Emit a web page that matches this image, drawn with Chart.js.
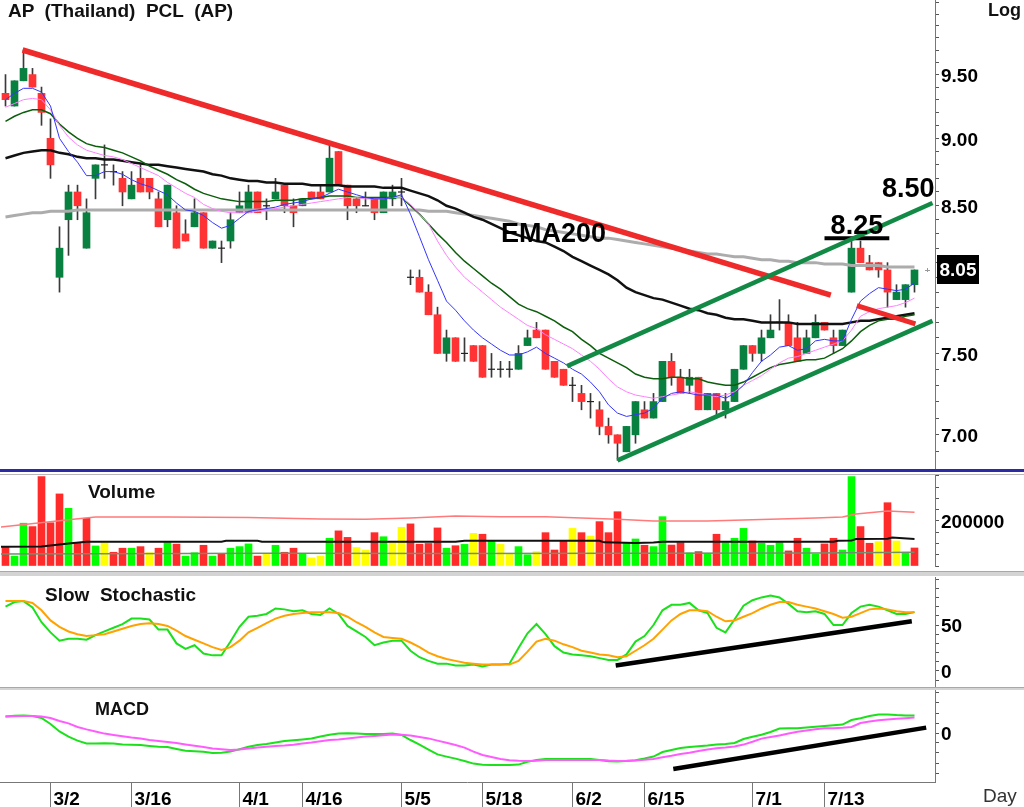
<!DOCTYPE html>
<html>
<head>
<meta charset="utf-8">
<title>AP (Thailand) PCL (AP)</title>
<script src="https://cdn.jsdelivr.net/npm/chart.js@4.4.1/dist/chart.umd.min.js"></script>
<style>
  body { margin: 0; background: #fff; }
  #wrap { position: relative; width: 1024px; height: 807px; overflow: hidden; background: #fff;
          font-family: "Liberation Sans", Arial, sans-serif; color: #111; }
  .pane { position: absolute; left: 0; width: 1024px; }
  .line { position: absolute; left: 0; width: 1024px; }
  .lbl { position: absolute; white-space: pre; font-weight: bold; line-height: 19px; }
</style>
</head>
<body>
<div id="wrap">
  <div class="pane" style="top:0;height:469px"><canvas id="priceChart"></canvas></div>
  <div class="line" style="top:469px;height:3px;background:#2b2ba6"></div>
  <div class="line" style="top:474px;height:1px;background:#b8b8b8"></div>
  <div class="pane" style="top:475px;height:93px"><canvas id="volumeChart"></canvas></div>
  <div class="line" style="top:571px;height:4px;background:#d4d4d4;border-top:1px solid #a8a8a8"></div>
  <div class="pane" style="top:577px;height:110px"><canvas id="stochChart"></canvas></div>
  <div class="line" style="top:687px;height:2px;background:#d4d4d4;border-top:1px solid #a8a8a8"></div>
  <div class="pane" style="top:690px;height:117px"><canvas id="macdChart"></canvas></div>

  <div class="lbl" style="left:8px;top:1px;font-size:19px">AP  (Thailand)  PCL  (AP)</div>
  <div class="lbl" style="left:988px;top:1px;font-size:18px">Log</div>
  <div class="lbl" style="left:88px;top:482px;font-size:19px">Volume</div>
  <div class="lbl" style="left:45px;top:585px;font-size:19px">Slow  Stochastic</div>
  <div class="lbl" style="left:95px;top:700px;font-size:18px">MACD</div>
  <div class="lbl" style="left:983px;top:786px;font-size:19px;font-weight:normal;color:#333">Day</div>
</div>

<script>
// ---- daily candles (tick 0.05) ----
const opens = [9.35,9.25,9.45,9.50,9.35,9.00,8.00,8.40,8.60,8.20,
  8.70,8.80,8.75,8.70,8.55,8.70,8.70,8.55,8.40,8.45,
  8.30,8.35,8.45,8.20,8.20,8.25,8.45,8.45,8.60,8.50,
  8.55,8.65,8.50,8.50,8.60,8.60,8.60,8.90,8.65,8.55,
  8.50,8.55,8.45,8.55,8.60,8.00,8.00,7.90,7.75,7.50,
  7.60,7.50,7.55,7.55,7.40,7.40,7.40,7.40,7.55,7.65,
  7.65,7.45,7.40,7.30,7.25,7.20,7.15,7.05,7.00,6.90,
  7.00,7.15,7.10,7.20,7.45,7.35,7.30,7.35,7.15,7.25,
  7.15,7.20,7.40,7.55,7.50,7.60,7.70,7.70,7.60,7.50,
  7.60,7.70,7.60,7.55,7.90,8.20,8.10,8.10,8.05,7.85,
  7.85,7.95];
const highs = [9.50,9.45,9.70,9.55,9.40,9.15,8.35,8.65,8.65,8.55,
  8.80,8.95,8.80,8.75,8.75,8.80,8.70,8.60,8.65,8.50,
  8.40,8.55,8.45,8.25,8.25,8.45,8.60,8.65,8.60,8.55,
  8.70,8.65,8.55,8.55,8.60,8.65,8.95,8.90,8.65,8.55,
  8.60,8.55,8.60,8.65,8.70,8.05,8.05,7.95,7.80,7.65,
  7.60,7.60,7.55,7.55,7.50,7.45,7.45,7.55,7.65,7.70,
  7.65,7.45,7.40,7.35,7.30,7.25,7.20,7.10,7.00,7.05,
  7.20,7.20,7.25,7.45,7.50,7.40,7.40,7.35,7.25,7.25,
  7.25,7.40,7.55,7.55,7.65,7.75,7.85,7.75,7.70,7.65,
  7.75,7.70,7.65,7.65,8.25,8.25,8.15,8.10,8.10,7.95,
  7.95,8.05];
const lows = [9.25,9.25,9.45,9.40,9.10,8.70,7.90,8.15,8.40,8.20,
  8.55,8.70,8.65,8.50,8.55,8.60,8.55,8.35,8.35,8.20,
  8.25,8.35,8.20,8.20,8.10,8.20,8.45,8.45,8.45,8.40,
  8.55,8.45,8.35,8.50,8.55,8.55,8.60,8.65,8.40,8.45,
  8.50,8.40,8.45,8.50,8.50,7.95,7.90,7.75,7.50,7.45,
  7.45,7.45,7.45,7.35,7.35,7.35,7.35,7.40,7.55,7.60,
  7.40,7.35,7.30,7.20,7.15,7.10,7.00,6.95,6.85,6.90,
  6.95,7.10,7.10,7.20,7.30,7.25,7.25,7.15,7.15,7.10,
  7.10,7.20,7.40,7.45,7.45,7.60,7.65,7.55,7.45,7.50,
  7.60,7.65,7.50,7.55,7.90,8.10,8.05,8.00,7.80,7.85,
  7.80,7.90];
const closes = [9.30,9.45,9.55,9.40,9.20,8.80,8.20,8.60,8.50,8.45,
  8.80,8.80,8.75,8.60,8.65,8.60,8.60,8.35,8.65,8.20,
  8.25,8.45,8.20,8.25,8.20,8.40,8.50,8.60,8.45,8.50,
  8.60,8.50,8.45,8.55,8.55,8.55,8.85,8.65,8.50,8.50,
  8.50,8.45,8.60,8.60,8.60,8.00,7.90,7.75,7.50,7.60,
  7.45,7.50,7.45,7.35,7.40,7.40,7.40,7.50,7.60,7.60,
  7.40,7.35,7.30,7.30,7.20,7.20,7.05,7.00,6.95,7.05,
  7.20,7.10,7.20,7.45,7.35,7.25,7.35,7.15,7.25,7.15,
  7.20,7.40,7.55,7.50,7.60,7.65,7.70,7.55,7.45,7.60,
  7.70,7.65,7.55,7.65,8.20,8.10,8.05,8.05,7.90,7.90,
  7.95,8.05];

// ---- moving averages drawn on the price pane ----
const emaFast = [9.30,9.35,9.39,9.39,9.36,9.25,9.00,8.90,8.82,8.72,
  8.72,8.75,8.75,8.73,8.69,8.66,8.64,8.61,8.58,8.52,
  8.47,8.46,8.43,8.38,8.34,8.36,8.41,8.46,8.47,8.48,
  8.49,8.51,8.52,8.53,8.55,8.56,8.59,8.62,8.60,8.58,
  8.56,8.55,8.55,8.56,8.58,8.44,8.28,8.12,7.98,7.84,
  7.78,7.71,7.65,7.60,7.56,7.52,7.49,7.49,7.51,7.54,
  7.50,7.47,7.44,7.40,7.37,7.32,7.26,7.18,7.13,7.11,
  7.12,7.13,7.16,7.22,7.25,7.26,7.25,7.24,7.24,7.24,
  7.22,7.25,7.30,7.38,7.45,7.49,7.54,7.55,7.52,7.53,
  7.58,7.59,7.58,7.58,7.72,7.84,7.89,7.93,7.92,7.91,
  7.92,7.96];
const emaMedium = [9.24,9.27,9.30,9.31,9.30,9.22,9.10,9.01,8.95,8.91,
  8.89,8.87,8.86,8.84,8.81,8.78,8.75,8.72,8.67,8.63,
  8.59,8.56,8.51,8.48,8.46,8.45,8.45,8.45,8.46,8.47,
  8.48,8.49,8.50,8.51,8.52,8.53,8.54,8.55,8.56,8.56,
  8.55,8.55,8.55,8.56,8.56,8.51,8.44,8.37,8.25,8.15,
  8.07,8.00,7.95,7.90,7.85,7.80,7.76,7.72,7.68,7.66,
  7.62,7.59,7.56,7.53,7.49,7.45,7.40,7.34,7.29,7.26,
  7.24,7.23,7.22,7.23,7.24,7.25,7.26,7.25,7.24,7.23,
  7.24,7.26,7.30,7.33,7.36,7.40,7.44,7.47,7.48,7.50,
  7.52,7.54,7.56,7.58,7.65,7.74,7.77,7.79,7.80,7.81,
  7.83,7.86];
const emaSlow = [9.13,9.17,9.20,9.22,9.22,9.19,9.11,9.05,9.00,8.96,
  8.94,8.93,8.91,8.89,8.86,8.83,8.79,8.76,8.73,8.69,
  8.66,8.62,8.59,8.57,8.55,8.54,8.53,8.53,8.53,8.53,
  8.54,8.54,8.54,8.55,8.55,8.56,8.57,8.57,8.57,8.56,
  8.56,8.56,8.56,8.56,8.56,8.50,8.44,8.37,8.30,8.24,
  8.17,8.11,8.06,8.01,7.96,7.92,7.87,7.82,7.79,7.77,
  7.74,7.71,7.67,7.64,7.59,7.55,7.50,7.47,7.44,7.41,
  7.37,7.35,7.34,7.34,7.35,7.35,7.34,7.34,7.32,7.31,
  7.30,7.30,7.32,7.35,7.38,7.41,7.43,7.44,7.45,7.46,
  7.46,7.47,7.50,7.53,7.58,7.64,7.68,7.71,7.72,7.72,
  7.74,7.75];
const emaLong = [8.85,8.87,8.89,8.90,8.91,8.91,8.89,8.88,8.86,8.85,
  8.85,8.84,8.84,8.83,8.82,8.81,8.80,8.80,8.79,8.78,
  8.77,8.76,8.75,8.73,8.72,8.70,8.69,8.68,8.68,8.67,
  8.67,8.66,8.66,8.66,8.65,8.65,8.65,8.65,8.64,8.64,
  8.64,8.64,8.63,8.63,8.63,8.61,8.59,8.57,8.54,8.50,
  8.48,8.45,8.42,8.40,8.37,8.34,8.31,8.29,8.27,8.25,
  8.24,8.21,8.18,8.14,8.11,8.08,8.05,8.02,7.98,7.93,
  7.90,7.88,7.86,7.85,7.83,7.81,7.79,7.78,7.76,7.75,
  7.73,7.72,7.72,7.71,7.70,7.70,7.70,7.70,7.69,7.69,
  7.69,7.69,7.69,7.69,7.70,7.71,7.71,7.72,7.73,7.74,
  7.75,7.76];
const ema200 = [8.42,8.43,8.44,8.45,8.45,8.46,8.46,8.46,8.47,8.47,
  8.47,8.47,8.47,8.47,8.47,8.47,8.47,8.47,8.47,8.47,
  8.47,8.47,8.47,8.47,8.47,8.47,8.47,8.47,8.47,8.47,
  8.47,8.47,8.47,8.47,8.47,8.47,8.47,8.47,8.47,8.47,
  8.47,8.47,8.47,8.47,8.47,8.47,8.47,8.46,8.46,8.46,
  8.45,8.44,8.43,8.42,8.41,8.40,8.39,8.37,8.36,8.35,
  8.33,8.32,8.31,8.30,8.29,8.28,8.27,8.27,8.26,8.25,
  8.24,8.23,8.22,8.21,8.20,8.19,8.18,8.17,8.16,8.16,
  8.15,8.14,8.14,8.13,8.12,8.12,8.11,8.11,8.10,8.10,
  8.10,8.09,8.09,8.09,8.08,8.08,8.08,8.08,8.07,8.07,
  8.07,8.07];

// ---- hand-drawn trend lines: [candle index], [price] ----
const downTrendIdx = [1.9, 91.7],   downTrend = [9.70, 7.88];
const shortDownIdx = [94.6, 101.1], shortDown = [7.81, 7.69];
const channelTopIdx = [62.4, 103.0], channelTop = [7.42, 8.52];
const channelLowIdx = [68.0, 103.0], channelLow = [6.85, 7.71];
const resistIdx = [91.0, 98.2],     resist = [8.27, 8.27];

// ---- volume (thousand shares) and direction: g up, r down, y unchanged ----
const volumeK = [86,44,190,175,397,192,320,256,101,212,
  89,104,61,79,79,86,59,79,104,97,
  44,59,92,44,53,79,86,98,44,53,
  92,61,79,53,36,44,123,156,127,82,
  71,148,130,104,172,187,97,100,169,79,
  90,96,145,141,111,96,56,86,50,64,
  148,71,111,167,148,133,197,148,241,101,
  120,92,86,219,93,104,58,64,56,141,
  104,123,167,111,101,92,104,67,123,79,
  53,98,123,71,397,175,101,108,281,111,
  61,80];
const volumeDir = 'rggrrrrgrrgyrrgryrgrggrgrgggrygrrgyygrryyrgyyrrrrgrgyrgyyggyrrryryrrrggrggrrgrgrgggrgggrrggrrggrryryg'.split('');
const volMaRedIdx = [-0.5, 7, 10, 18, 27, 35, 40, 45, 50, 55, 60, 68, 72, 78, 85, 90, 93, 94.5, 98, 101];
const volMaRed = [173, 205, 218, 218, 215, 209, 208, 213, 222, 219, 219, 208, 200, 200, 208, 213, 218, 231, 244, 239];
const volMaBlackIdx = [-0.5, 4, 7, 9, 24, 24.5, 28, 28.5, 50, 51, 66, 66.5, 70, 72, 73, 92, 92.5, 94, 94.5, 98, 98.5, 101];
const volMaBlack = [86, 87, 100, 108, 108, 112, 112, 108, 108, 112, 112, 105, 102, 104, 108, 108, 112, 113, 120, 121, 126, 120];
const volMaGrayIdx = [-0.5, 30, 50, 70, 90, 101];
const volMaGray = [53, 57, 55, 57, 58, 61];

// ---- slow stochastic ----
const stochK = [70,75,76,69,53,42,33,35,35,34,
  39,43,47,51,57,57,56,45,45,30,
  24,28,19,17,17,32,48,59,60,62,
  68,67,65,66,62,61,68,62,49,43,
  37,28,31,33,33,22,15,11,8,8,
  6,6,7,5,7,7,8,25,41,51,
  40,27,20,18,17,16,14,12,12,18,
  32,38,50,66,72,72,74,66,63,47,
  42,56,71,77,80,82,80,73,65,64,
  65,62,50,50,63,70,72,70,66,62,
  62,64];
const stochD = [76,76,76,74,66,55,48,43,40,38,
  39,40,43,46,49,51,52,51,49,44,
  38,34,30,26,23,26,33,42,47,52,
  57,60,62,63,64,64,64,63,59,53,
  48,42,37,36,35,31,26,20,16,13,
  11,9,8,7,7,7,7,11,21,32,
  35,33,29,26,22,20,18,17,15,16,
  22,28,35,45,55,62,66,66,65,59,
  54,55,59,63,68,72,75,75,72,70,
  68,65,62,58,59,63,67,68,67,65,
  64,64];
const stochTrendIdx = [67.8, 100.7], stochTrend = [6, 54];

// ---- MACD ----
const macdLine = [0.083,0.086,0.087,0.085,0.075,0.045,0.008,-0.018,-0.038,-0.052,
  -0.052,-0.051,-0.053,-0.058,-0.059,-0.060,-0.065,-0.069,-0.070,-0.080,
  -0.089,-0.091,-0.094,-0.100,-0.099,-0.093,-0.081,-0.069,-0.060,-0.055,
  -0.047,-0.040,-0.036,-0.032,-0.028,-0.018,-0.009,-0.002,-0.001,-0.003,
  -0.005,-0.005,-0.005,-0.002,-0.010,-0.035,-0.058,-0.083,-0.107,-0.118,
  -0.128,-0.140,-0.153,-0.159,-0.160,-0.160,-0.160,-0.158,-0.144,-0.135,
  -0.130,-0.130,-0.130,-0.130,-0.130,-0.130,-0.135,-0.141,-0.143,-0.140,
  -0.136,-0.128,-0.118,-0.095,-0.085,-0.075,-0.070,-0.066,-0.063,-0.058,
  -0.055,-0.050,-0.030,-0.019,-0.009,0.005,0.022,0.024,0.024,0.028,
  0.031,0.035,0.039,0.042,0.065,0.074,0.085,0.092,0.093,0.090,
  0.088,0.087];
const macdSignal = [0.082,0.084,0.085,0.085,0.083,0.075,0.060,0.048,0.030,0.018,
  0.008,-0.003,-0.010,-0.016,-0.023,-0.028,-0.035,-0.040,-0.045,-0.050,
  -0.057,-0.064,-0.070,-0.077,-0.081,-0.085,-0.082,-0.077,-0.072,-0.069,
  -0.065,-0.063,-0.059,-0.053,-0.048,-0.041,-0.035,-0.032,-0.027,-0.023,
  -0.018,-0.015,-0.011,-0.008,-0.009,-0.013,-0.020,-0.027,-0.038,-0.049,
  -0.060,-0.073,-0.093,-0.110,-0.120,-0.130,-0.136,-0.139,-0.140,-0.139,
  -0.135,-0.135,-0.135,-0.135,-0.135,-0.135,-0.135,-0.138,-0.140,-0.139,
  -0.137,-0.134,-0.130,-0.121,-0.114,-0.105,-0.099,-0.090,-0.083,-0.076,
  -0.073,-0.068,-0.058,-0.044,-0.028,-0.020,-0.012,-0.003,0.006,0.012,
  0.019,0.024,0.024,0.026,0.030,0.050,0.058,0.064,0.067,0.071,
  0.074,0.077];
const macdTrendIdx = [74.2, 102.3], macdTrend = [-0.18, 0.027];

// ---- axes ----
const dateIdx = [5, 14, 26, 33, 44, 53, 63, 71, 83, 91];
const dateLabels = ['3/2', '3/16', '4/1', '4/16', '5/5', '5/18', '6/2', '6/15', '7/1', '7/13'];
const priceTicks = Array.from({ length: 33 }, (_, k) => Math.round(69 + k) / 10);
const priceLabels = [7.0, 7.5, 8.5, 9.0, 9.5];
const volTicks = [0, 50000, 100000, 150000, 200000, 250000, 300000, 350000, 400000];
const volLabels = [200000];
const stochTicks = [-10, 0, 10, 20, 30, 40, 50, 60, 70, 80, 90, 100];
const stochLabels = [0, 50];
const macdTicks = [-0.2, -0.15, -0.1, -0.05, 0, 0.05, 0.1, 0.15, 0.2];
const macdLabels = [0];

// ---- look ----
const FONT = '"Liberation Sans", Arial, sans-serif';
const AXIS_W = 89;
const X_MIN = -0.6111, X_MAX = 103.278;
const UP = '#078040', DOWN = '#ff3333';
const VOL_COLORS = { g: '#00ff00', r: '#ff2a2a', y: '#ffff00' };

Chart.defaults.font.family = FONT;

const series = arr => arr.map((v, i) => ({ x: i, y: v }));
const segment = (xs, ys) => xs.map((x, k) => ({ x: x, y: ys[k] }));

function line(data, color, width, order, extra) {
  return Object.assign({ type: 'line', data: data, borderColor: color, borderWidth: width,
    pointRadius: 0, pointHoverRadius: 0, tension: 0, fill: false, order: order }, extra || {});
}

function xAxis() {
  return { type: 'linear', min: X_MIN, max: X_MAX, offset: false, display: false };
}

function yAxis(type, min, max, ticks, labels, fmt) {
  return {
    type: type, position: 'right', min: min, max: max,
    afterFit: s => { s.width = AXIS_W; s.paddingTop = 0; s.paddingBottom = 0; },
    afterBuildTicks: s => { s.ticks = ticks.map(v => ({ value: v })); },
    grid: { drawOnChartArea: false, tickLength: 4, color: '#555' },
    border: { color: '#777' },
    ticks: {
      autoSkip: false, padding: 2, labelOffset: 2, color: '#000',
      font: { family: FONT, size: 19, weight: 'bold' },
      callback: v => {
        const hit = labels.find(l => Math.abs(l - v) < 1e-6);
        return hit === undefined ? '' : fmt(hit);
      }
    }
  };
}

function baseOptions(scales, bottomPad) {
  return {
    responsive: true, maintainAspectRatio: false, animation: false, events: [],
    layout: { autoPadding: false, padding: { left: 0, right: 0, top: 0, bottom: bottomPad || 0 } },
    plugins: { legend: { display: false }, tooltip: { enabled: false } },
    scales: scales
  };
}

// ---- price pane ----
const priceNotes = [
  { text: 'EMA200', idx: 60.9, price: 8.24 },
  { text: '8.25', idx: 94.6, price: 8.30 },
  { text: '8.50', idx: 100.3, price: 8.565 }
];

const priceDecor = {
  id: 'priceDecor',
  afterDatasetsDraw(chart) {
    const { ctx, chartArea, scales: { x, y } } = chart;
    ctx.save();
    ctx.fillStyle = '#000';
    ctx.textAlign = 'center';
    ctx.textBaseline = 'alphabetic';
    ctx.font = 'bold 27px ' + FONT;
    priceNotes.forEach(n => ctx.fillText(n.text, x.getPixelForValue(n.idx), y.getPixelForValue(n.price)));

    const last = closes[closes.length - 1];
    const py = Math.round(y.getPixelForValue(last));
    ctx.fillStyle = '#999';
    ctx.fillRect(chartArea.right - 8, py - 2, 1, 4);
    ctx.fillRect(chartArea.right - 10, py, 5, 1);
    ctx.fillStyle = '#000';
    ctx.fillRect(chartArea.right + 2, py - 15, 42, 29);
    ctx.fillStyle = '#fff';
    ctx.font = 'bold 19px ' + FONT;
    ctx.textBaseline = 'middle';
    ctx.fillText(last.toFixed(2), chartArea.right + 23, py + 1);
    ctx.restore();
  }
};

const wicks = highs.map((h, i) => ({ x: i, y: [lows[i], h] }));
const bodies = opens.map((o, i) => ({ x: i, y: o === closes[i] ? null : [o, closes[i]] }));
const dojis = opens.map((o, i) => ({ x: i, y: closes[i] })).filter((p, i) => opens[i] === closes[i]);

new Chart(document.getElementById('priceChart'), {
  type: 'bar',
  data: {
    datasets: [
      { type: 'bar', data: wicks, backgroundColor: '#3a3a3a', barThickness: 1, grouped: false, order: 20 },
      { type: 'bar', data: bodies, barThickness: 7, grouped: false, order: 19,
        backgroundColor: c => closes[c.dataIndex] >= opens[c.dataIndex] ? UP : DOWN },
      { type: 'scatter', data: dojis, pointStyle: 'line', pointRadius: 3.5, pointHoverRadius: 3.5,
        borderColor: '#222', borderWidth: 1.2, order: 18 },
      line(series(ema200), '#acacac', 3, 9),
      line(series(emaLong), '#111111', 2.5, 8),
      line(series(emaSlow), '#0b5e0b', 1.5, 7),
      line(series(emaMedium), '#ff80ff', 1, 6),
      line(series(emaFast), '#3434ff', 1, 5),
      line(segment(downTrendIdx, downTrend), '#ee2a2a', 5.5, 2),
      line(segment(shortDownIdx, shortDown), '#ee2a2a', 5, 2),
      line(segment(channelTopIdx, channelTop), '#128a45', 4.5, 1),
      line(segment(channelLowIdx, channelLow), '#128a45', 4.5, 1),
      line(segment(resistIdx, resist), '#000000', 4, 1)
    ]
  },
  options: baseOptions({
    x: xAxis(),
    y: yAxis('logarithmic', 6.82, 10.12, priceTicks, priceLabels, v => v.toFixed(2))
  }),
  plugins: [priceDecor]
});

// ---- volume pane ----
new Chart(document.getElementById('volumeChart'), {
  type: 'bar',
  data: {
    datasets: [
      { type: 'bar', data: volumeK.map((v, i) => ({ x: i, y: v * 1000 })), barThickness: 7, grouped: false,
        backgroundColor: volumeDir.map(d => VOL_COLORS[d]), order: 10 },
      line(segment(volMaGrayIdx, volMaGray.map(v => v * 1000)), '#6f8f6f', 1.5, 3),
      line(segment(volMaBlackIdx, volMaBlack.map(v => v * 1000)), '#111111', 2, 2),
      line(segment(volMaRedIdx, volMaRed.map(v => v * 1000)), '#ff7a7a', 1.5, 1)
    ]
  },
  options: baseOptions({
    x: xAxis(),
    y: yAxis('linear', 0, 404000, volTicks, volLabels, v => String(v))
  }, 2)
});

// ---- slow stochastic pane ----
new Chart(document.getElementById('stochChart'), {
  type: 'line',
  data: {
    datasets: [
      line(series(stochK), '#1be01b', 2, 3),
      line(series(stochD), '#ffa200', 2, 2),
      line(segment(stochTrendIdx, stochTrend), '#000000', 4.5, 1)
    ]
  },
  options: baseOptions({
    x: xAxis(),
    y: yAxis('linear', -17.4, 102.2, stochTicks, stochLabels, v => String(v))
  })
});

// ---- MACD pane with the date axis ----
const dateAxis = {
  id: 'dateAxis',
  afterDraw(chart) {
    const { ctx, chartArea, scales: { x } } = chart;
    const bottom = Math.round(chartArea.bottom) + 0.5;
    ctx.save();
    ctx.strokeStyle = '#777';
    ctx.lineWidth = 1;
    ctx.beginPath();
    ctx.moveTo(0, bottom);
    ctx.lineTo(chartArea.right, bottom);
    ctx.stroke();
    ctx.fillStyle = '#000';
    ctx.font = 'bold 19px ' + FONT;
    ctx.textAlign = 'left';
    ctx.textBaseline = 'alphabetic';
    dateIdx.forEach((v, k) => {
      const px = Math.round(x.getPixelForValue(v)) + 0.5;
      ctx.beginPath();
      ctx.moveTo(px, bottom);
      ctx.lineTo(px, chart.height);
      ctx.stroke();
      ctx.fillText(dateLabels[k], px + 3, bottom + 22);
    });
    ctx.restore();
  }
};

new Chart(document.getElementById('macdChart'), {
  type: 'line',
  data: {
    datasets: [
      line(series(macdLine), '#1be01b', 2, 3),
      line(series(macdSignal), '#ff5cff', 2, 2),
      line(segment(macdTrendIdx, macdTrend), '#000000', 4.5, 1)
    ]
  },
  options: baseOptions({
    x: xAxis(),
    y: yAxis('linear', -0.245, 0.215, macdTicks, macdLabels, () => '0')
  }, 25),
  plugins: [dateAxis]
});
</script>
</body>
</html>
